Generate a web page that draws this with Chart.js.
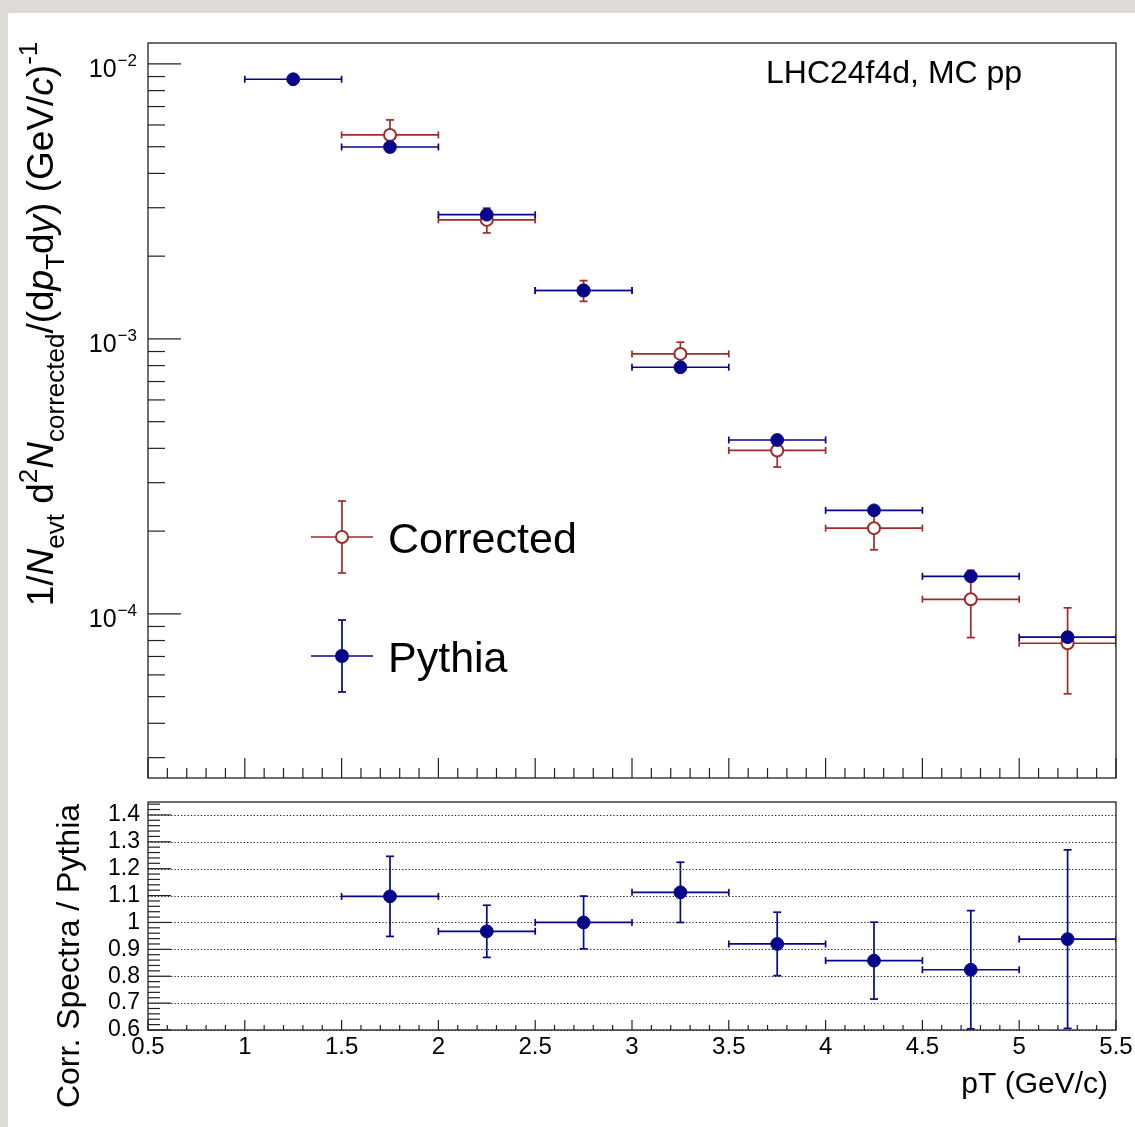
<!DOCTYPE html>
<html>
<head>
<meta charset="utf-8">
<script src="https://cdn.jsdelivr.net/npm/chart.js@4.4.1/dist/chart.umd.min.js"></script>
<style>
    html, body { margin: 0; padding: 0; background: #fff; }
    #page { position: relative; width: 1135px; height: 1127px; background: #fff; overflow: hidden; }
    #stripL { position: absolute; left: 0; top: 0; width: 8px; height: 1127px; background: #dcdbd6; }
    #stripT { position: absolute; left: 0; top: 0; width: 1135px; height: 13px; background: #dcdbd6; }
    canvas { position: absolute; left: 0; }
</style>
</head>
<body>
<div id="page">
    <div id="stripL"></div>
    <div id="stripT"></div>
    <canvas id="spectraChart" width="1135" height="790" style="top:0px"></canvas>
    <canvas id="ratioChart" width="1135" height="337" style="top:790px"></canvas>
</div>
<script>
// pT bins (GeV/c), bin half width
var pythiaPt = [1.25, 1.75, 2.25, 2.75, 3.25, 3.75, 4.25, 4.75, 5.25];
var pythiaYield = [8.80e-3, 4.99e-3, 2.83e-3, 1.50e-3, 7.89e-4, 4.29e-4, 2.38e-4, 1.37e-4, 8.23e-5];

var correctedPt = [1.75, 2.25, 2.75, 3.25, 3.75, 4.25, 4.75, 5.25];
var correctedYield = [5.52e-3, 2.71e-3, 1.50e-3, 8.82e-4, 3.93e-4, 2.05e-4, 1.13e-4, 7.82e-5];
var correctedErr = [0.74e-3, 0.28e-3, 0.13e-3, 0.91e-4, 0.51e-4, 0.34e-4, 0.31e-4, 0.27e-4];

var ratioPt = [1.75, 2.25, 2.75, 3.25, 3.75, 4.25, 4.75, 5.25];
var ratioVal = [1.097, 0.967, 1.0, 1.112, 0.92, 0.858, 0.824, 0.938];
var ratioErr = [0.149, 0.097, 0.098, 0.112, 0.118, 0.143, 0.22, 0.332];

var binHalf = 0.25;

// axes
var xTicks = [0.5, 1, 1.5, 2, 2.5, 3, 3.5, 4, 4.5, 5, 5.5];
var ratioTicks = [0.6, 0.7, 0.8, 0.9, 1, 1.1, 1.2, 1.3, 1.4];
var logDecades = [-2, -3, -4];
var spectraRange = [2.53e-5, 1.192e-2];
var ratioRange = [0.6, 1.448];

var blue = "#06068a";
var red = "#a02a2a";
var FONT = '"Liberation Sans", Arial, sans-serif';

function line(ctx, x0, y0, x1, y1) {
    ctx.beginPath();
    ctx.moveTo(x0, y0);
    ctx.lineTo(x1, y1);
    ctx.stroke();
}

// error bars, drawn before each dataset so markers sit on top
var errorBars = {
    id: "errorBars",
    beforeDatasetDraw: function (chart, args) {
        var ds = chart.data.datasets[args.index];
        var xs = chart.scales.x, ys = chart.scales.y;
        var a = chart.chartArea;
        var ctx = chart.ctx;
        ctx.save();
        ctx.beginPath();
        ctx.rect(a.left, a.top - 1, a.right - a.left, a.bottom - a.top + 2);
        ctx.clip();
        ctx.strokeStyle = ds.borderColor;
        ctx.lineWidth = 1.7;
        ds.data.forEach(function (p, i) {
            var px = xs.getPixelForValue(p.x);
            var py = ys.getPixelForValue(p.y);
            var x0 = xs.getPixelForValue(p.x - binHalf);
            var x1 = xs.getPixelForValue(p.x + binHalf);
            line(ctx, x0, py, x1, py);
            line(ctx, x0, py - 3.5, x0, py + 3.5);
            line(ctx, x1, py - 3.5, x1, py + 3.5);
            var e = ds.errY ? ds.errY[i] : 0;
            if (e) {
                var y0 = ys.getPixelForValue(p.y - e);
                var y1 = ys.getPixelForValue(p.y + e);
                line(ctx, px, y0, px, y1);
                line(ctx, px - 4, y0, px + 4, y0);
                line(ctx, px - 4, y1, px + 4, y1);
            }
        });
        ctx.restore();
    }
};

function richTitle(ctx, parts, cx, cy, size) {
    var fontFor = function (k) {
        var s = (k === "sub" || k === "sup") ? Math.round(size * 0.7) : size;
        return (k === "i" ? "italic " : "") + s + "px " + FONT;
    };
    var w = 0;
    parts.forEach(function (p) { ctx.font = fontFor(p[1]); w += ctx.measureText(p[0]).width; });
    ctx.save();
    ctx.translate(cx, cy);
    ctx.rotate(-Math.PI / 2);
    ctx.textAlign = "left";
    ctx.textBaseline = "alphabetic";
    ctx.fillStyle = "#000";
    var x = -w / 2, base = size * 0.36;
    parts.forEach(function (p) {
        ctx.font = fontFor(p[1]);
        var dy = p[1] === "sub" ? size * 0.3 : (p[1] === "sup" ? -size * 0.45 : 0);
        ctx.fillText(p[0], x, base + dy);
        x += ctx.measureText(p[0]).width;
    });
    ctx.restore();
}

function legendEntry(ctx, cx, cy, color, filled, label) {
    ctx.strokeStyle = color;
    ctx.lineWidth = 1.7;
    line(ctx, cx - 31, cy, cx + 31, cy);
    line(ctx, cx, cy - 36, cx, cy + 36);
    line(ctx, cx - 4, cy - 36, cx + 4, cy - 36);
    line(ctx, cx - 4, cy + 36, cx + 4, cy + 36);
    ctx.beginPath();
    ctx.arc(cx, cy, 6, 0, Math.PI * 2);
    ctx.fillStyle = filled ? color : "#fff";
    ctx.fill();
    ctx.lineWidth = 2;
    ctx.stroke();
    ctx.fillStyle = "#000";
    ctx.font = "43px " + FONT;
    ctx.textAlign = "left";
    ctx.textBaseline = "alphabetic";
    ctx.fillText(label, cx + 46, cy + 16);
}

var spectraAxes = {
    id: "spectraAxes",
    afterDraw: function (chart) {
        var ctx = chart.ctx, a = chart.chartArea;
        var xs = chart.scales.x, ys = chart.scales.y;
        ctx.save();
        ctx.strokeStyle = "#222";
        ctx.lineWidth = 1.3;
        ctx.strokeRect(a.left, a.top, a.right - a.left, a.bottom - a.top);
        ctx.lineWidth = 1.2;
        for (var k = 5; k <= 55; k++) {
            var px = xs.getPixelForValue(k / 10);
            line(ctx, px, a.bottom, px, a.bottom - (k % 5 === 0 ? 20 : 10));
        }
        for (var d = -5; d <= -2; d++) {
            for (var m = 1; m <= 9; m++) {
                var v = m * Math.pow(10, d);
                if (v < spectraRange[0] || v > spectraRange[1]) continue;
                var py = ys.getPixelForValue(v);
                line(ctx, a.left, py, a.left + (m === 1 ? 33 : 17), py);
            }
        }
        ctx.fillStyle = "#000";
        ctx.textBaseline = "middle";
        logDecades.forEach(function (d) {
            var py = ys.getPixelForValue(Math.pow(10, d));
            ctx.font = "17px " + FONT;
            ctx.textAlign = "right";
            var sup = "\u2212" + (-d);
            ctx.fillText(sup, 137, py - 3);
            var sw = ctx.measureText(sup).width;
            ctx.font = "25px " + FONT;
            ctx.fillText("10", 137 - sw - 1, py + 6);
        });
        ctx.font = "32px " + FONT;
        ctx.textAlign = "left";
        ctx.textBaseline = "alphabetic";
        ctx.fillText("LHC24f4d, MC pp", 766, 83);

        legendEntry(ctx, 342, 537, red, false, "Corrected");
        legendEntry(ctx, 342, 656, blue, true, "Pythia");

        richTitle(ctx, [["1/", "n"], ["N", "i"], ["evt", "sub"], [" d", "n"], ["2", "sup"], ["N", "i"],
            ["corrected", "sub"], ["/(d", "n"], ["p", "i"], ["T", "sub"], ["d", "n"], ["y", "i"],
            [") (GeV/", "n"], ["c", "i"], [")", "n"], ["-1", "sup"]], 40, 324, 37);
        ctx.restore();
    }
};

var ratioAxes = {
    id: "ratioAxes",
    beforeDatasetsDraw: function (chart) {
        var ctx = chart.ctx, a = chart.chartArea, ys = chart.scales.y;
        ctx.save();
        ctx.strokeStyle = "#222";
        ctx.lineWidth = 1;
        ctx.setLineDash([1.3, 2]);
        ratioTicks.forEach(function (v) {
            var py = Math.round(ys.getPixelForValue(v)) + 0.5;
            line(ctx, a.left, py, a.right, py);
        });
        ctx.restore();
    },
    afterDraw: function (chart) {
        var ctx = chart.ctx, a = chart.chartArea;
        var xs = chart.scales.x, ys = chart.scales.y;
        ctx.save();
        ctx.strokeStyle = "#222";
        ctx.lineWidth = 1.3;
        ctx.strokeRect(a.left, a.top, a.right - a.left, a.bottom - a.top);
        ctx.lineWidth = 1.2;
        for (var k = 5; k <= 55; k++) {
            var px = xs.getPixelForValue(k / 10);
            line(ctx, px, a.bottom, px, a.bottom - (k % 5 === 0 ? 10 : 5));
        }
        for (var j = 30; j <= 72; j++) {
            var py = ys.getPixelForValue(j / 50);
            line(ctx, a.left, py, a.left + (j % 5 === 0 ? 23 : 12), py);
        }
        ctx.fillStyle = "#000";
        ctx.font = "24px " + FONT;
        ctx.textAlign = "center";
        ctx.textBaseline = "middle";
        xTicks.forEach(function (v) {
            ctx.fillText(String(v), xs.getPixelForValue(v), a.bottom + 17);
        });
        ctx.font = "23px " + FONT;
        ctx.textAlign = "right";
        ratioTicks.forEach(function (v) {
            ctx.fillText(String(v), 140, ys.getPixelForValue(v));
        });
        ctx.font = "30px " + FONT;
        ctx.textAlign = "right";
        ctx.textBaseline = "alphabetic";
        ctx.fillText("pT (GeV/c)", 1108, a.bottom + 63);

        ctx.translate(70, 956 - 790);
        ctx.rotate(-Math.PI / 2);
        ctx.font = "32px " + FONT;
        ctx.textAlign = "center";
        ctx.textBaseline = "middle";
        ctx.fillText("Corr. Spectra / Pythia", 0, 0);
        ctx.restore();
    }
};

function pts(xs, ys) {
    return xs.map(function (x, i) { return { x: x, y: ys[i] }; });
}

new Chart("spectraChart", {
    type: "scatter",
    data: {
        datasets: [{
            label: "Pythia",
            data: pts(pythiaPt, pythiaYield),
            borderColor: blue,
            backgroundColor: blue,
            pointRadius: 6.4,
            borderWidth: 1
        }, {
            label: "Corrected",
            data: pts(correctedPt, correctedYield),
            errY: correctedErr,
            borderColor: red,
            backgroundColor: "#fff",
            pointRadius: 6,
            borderWidth: 2
        }]
    },
    options: {
        responsive: false,
        animation: false,
        devicePixelRatio: 1,
        layout: { padding: { left: 148, top: 43, right: 19, bottom: 12 } },
        plugins: { legend: { display: false }, tooltip: { enabled: false } },
        scales: {
            x: { type: "linear", min: 0.5, max: 5.5, display: false },
            y: { type: "logarithmic", min: spectraRange[0], max: spectraRange[1], display: false }
        }
    },
    plugins: [errorBars, spectraAxes]
});

new Chart("ratioChart", {
    type: "scatter",
    data: {
        datasets: [{
            label: "Ratio",
            data: pts(ratioPt, ratioVal),
            errY: ratioErr,
            borderColor: blue,
            backgroundColor: blue,
            pointRadius: 6.4,
            borderWidth: 1
        }]
    },
    options: {
        responsive: false,
        animation: false,
        devicePixelRatio: 1,
        layout: { padding: { left: 148, top: 12, right: 19, bottom: 97 } },
        plugins: { legend: { display: false }, tooltip: { enabled: false } },
        scales: {
            x: { type: "linear", min: 0.5, max: 5.5, display: false },
            y: { type: "linear", min: ratioRange[0], max: ratioRange[1], display: false }
        }
    },
    plugins: [errorBars, ratioAxes]
});
</script>
</body>
</html>
